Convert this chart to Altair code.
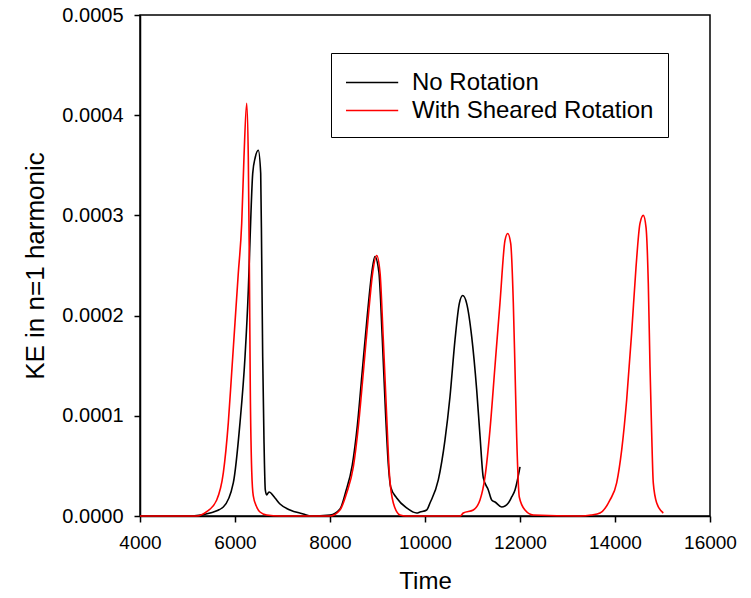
import altair as alt
import pandas as pd

# No Rotation (black)
t_no = [4000, 5100, 5474, 5754, 5964, 6105, 6211, 6280, 6316, 6373, 6427, 6490,
        6541, 6562, 6583, 6610, 6638, 6667, 6716, 6842, 6947, 7158, 7438, 7579,
        8000, 8210, 8330, 8470, 8575, 8680, 8785, 8880, 8945, 9030, 9100, 9170,
        9230, 9277, 9404, 9614, 9825, 9895, 10036, 10105, 10280, 10421, 10526,
        10632, 10722, 10794, 10878, 10983, 11088, 11158, 11228, 11333, 11404,
        11474, 11614, 11754, 11825, 11895, 12000]
v_no = [0, 0, 0.000003, 0.000009, 0.000033, 0.000093, 0.000159, 0.000225, 0.000275,
        0.000342, 0.000358, 0.000365, 0.000342, 0.000258, 0.000159, 0.000076,
        0.000026, 0.000021, 0.000024, 0.000018, 0.000012, 0.000006, 0.000002, 0,
        0.000001, 0.000007, 0.000024, 0.000051, 0.00009, 0.000145, 0.0002,
        0.000243, 0.000259, 0.000243, 0.000178, 0.000102, 0.00005, 0.000029,
        0.000018, 0.000008, 0.000003, 0.000004, 0.000006, 0.000013, 0.000036,
        0.000076, 0.000119, 0.000176, 0.000212, 0.00022, 0.000212, 0.000179,
        0.000126, 0.00008, 0.000038, 0.000026, 0.000016, 0.000014, 0.000009,
        0.000013, 0.000019, 0.000026, 0.000049]

# With Sheared Rotation (red)
t_rot = [4000, 5194, 5404, 5615, 5754, 5859, 5930, 6000, 6069, 6141, 6189, 6246,
         6280, 6301, 6322, 6352, 6385, 6457, 6526, 6667, 6947, 8000, 8210, 8351,
         8491, 8596, 8701, 8806, 8899, 8983, 9053, 9122, 9194, 9249, 9333, 9474,
         9600, 10737, 10806, 11017, 11158, 11263, 11368, 11474, 11579, 11684,
         11741, 11804, 11859, 11895, 11930, 11985, 12105, 12280, 13263, 13500,
         13684, 13895, 14035, 14141, 14246, 14351, 14442, 14526, 14596, 14653,
         14701, 14737, 14772, 14806, 14878, 15017]
v_rot = [0, 0, 0.0000043, 0.000016, 0.000043, 0.000093, 0.000143, 0.000193,
         0.000242, 0.000292, 0.000358, 0.000412, 0.000358, 0.000258, 0.000126,
         0.000045, 0.00002, 0.000009, 0.000004, 0.000001, 0, 0, 0.000006,
         0.000023, 0.000049, 0.000089, 0.000143, 0.000199, 0.000243, 0.00026,
         0.000243, 0.000176, 0.000099, 0.000043, 0.000013, 0.000001, 0, 0,
         0.000003, 0.000006, 0.000016, 0.000039, 0.000086, 0.00015, 0.000213,
         0.000275, 0.000282, 0.000272, 0.000213, 0.000146, 0.000079, 0.000019,
         0.000006, 0.000001, 0, 0.000001, 0.000003, 0.000016, 0.000033, 0.000066,
         0.000116, 0.000183, 0.000248, 0.000292, 0.0003, 0.000288, 0.000232,
         0.000149, 0.000083, 0.000033, 0.000013, 0.000003]

series = ["No Rotation", "With Sheared Rotation"]
colors = ["#000000", "#ff0000"]
x_ticks = [4000, 6000, 8000, 10000, 12000, 14000, 16000]
y_ticks = [0, 0.0001, 0.0002, 0.0003, 0.0004, 0.0005]

rows = []
for i, (t, v) in enumerate(zip(t_no, v_no)):
    rows.append({"Time": t, "KE": v, "Series": series[0], "order": i})
for i, (t, v) in enumerate(zip(t_rot, v_rot)):
    rows.append({"Time": t, "KE": v, "Series": series[1], "order": i})
df = pd.DataFrame(rows)

FONT = "Liberation Sans"

chart = alt.Chart(df).mark_line(strokeWidth=1.6, interpolate="monotone").encode(
    x=alt.X("Time:Q", scale=alt.Scale(domain=[4000, 16000], nice=False),
            axis=alt.Axis(values=x_ticks, format="d", title="Time",
                          labelFlush=False, labelFontSize=19,
                          labelPadding=11, titlePadding=17, titleFontSize=24)),
    y=alt.Y("KE:Q", scale=alt.Scale(domain=[0, 0.0005], nice=False),
            axis=alt.Axis(values=y_ticks, format=".4f", title="KE in n=1 harmonic",
                          labelFlush=False, labelFontSize=20,
                          labelPadding=11, titlePadding=13, titleFontSize=26)),
    color=alt.Color("Series:N", scale=alt.Scale(domain=series, range=colors),
                    legend=alt.Legend(title=None, orient="none", legendX=191, legendY=38,
                                      symbolType="M-1,0H2.6", symbolSize=841,
                                      symbolStrokeWidth=1.6, labelFontSize=24,
                                      labelFont=FONT, labelColor="black",
                                      labelLimit=500,
                                      strokeColor="black", fillColor="white",
                                      padding=14, rowPadding=0, labelOffset=36)),
    order="order:Q",
).properties(
    width=570, height=501,
    autosize=alt.AutoSizeParams(type="none"),
    padding={"left": 132, "top": 7, "right": 33, "bottom": 74},
).configure_view(
    stroke="black", strokeWidth=1.5
).configure_axis(
    grid=False, domainColor="black", domainWidth=1.5, tickColor="black",
    tickWidth=1.5, tickSize=6, labelFont=FONT,
    labelColor="black", titleFont=FONT, titleColor="black",
    titleFontWeight="normal"
)

chart.save("out.html", embed_options={"renderer": "svg", "actions": False})
